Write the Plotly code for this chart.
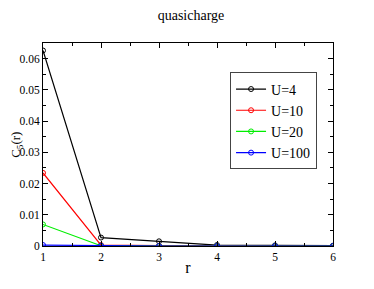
import plotly.graph_objects as go

r = [1, 2, 3, 4, 5, 6]
u4 = [0.0626, 0.0027, 0.0015, 0.0003, 0.0002, 0.0001]
u10 = [0.0234, 0.0003, 0.0001, 0.0, 0.0, 0.0]
u20 = [0.0069, 0.0001, 0.0, 0.0, 0.0, 0.0]
u100 = [0.0003, 0.0001, 0.0, 0.0, 0.0, 0.0]

names = ["U=4", "U=10", "U=20", "U=100"]
colors = ["black", "red", "#00ee00", "blue"]
serif = "Times New Roman"

fig = go.Figure()
for name, ys, c in zip(names, [u4, u10, u20, u100], colors):
    fig.add_trace(go.Scatter(
        x=r, y=ys, name=name, mode="lines+markers",
        line=dict(color=c, width=1.2),
        marker=dict(symbol="circle-open", size=5, color=c, line=dict(width=1)),
    ))

axis_common = dict(
    showgrid=False, zeroline=False, showline=True, linecolor="black", linewidth=1,
    mirror="ticks", ticks="inside", ticklen=5, tickcolor="black", automargin=False,
    tickfont=dict(family=serif, size=11.5, color="black"),
)

fig.update_xaxes(range=[1, 6], dtick=1, minor=dict(dtick=0.5, ticks="inside", ticklen=3, tickcolor="black"),
                 title=dict(text="r", font=dict(family=serif, size=16, color="black"), standoff=0),
                 **axis_common)
fig.update_yaxes(range=[0, 0.065], dtick=0.01, tickformat="~g",
                 minor=dict(dtick=0.005, ticks="inside", ticklen=3, tickcolor="black"),
                 **axis_common)

# y axis title as rotated text, left of the tick labels
fig.add_annotation(text="C<sub>5</sub>(r)", xref="paper", yref="paper", x=-0.092, y=0.5,
                   xanchor="center", yanchor="middle", textangle=-90, showarrow=False,
                   font=dict(family=serif, size=13, color="black"))

fig.update_layout(
    width=366, height=281,
    margin=dict(l=35, r=41, t=35, b=43),
    paper_bgcolor="white", plot_bgcolor="white",
    title=dict(text="quasicharge", x=0.5, xanchor="center", y=0.975, yanchor="middle",
               font=dict(family=serif, size=14, color="black")),
    legend=dict(x=0.645, y=0.855, xanchor="left", yanchor="top",
                bordercolor="#444", borderwidth=1, bgcolor="white",
                font=dict(family=serif, size=14, color="black"),
                itemwidth=30, tracegroupgap=0),
    showlegend=True,
)

fig.write_html("out.html")
